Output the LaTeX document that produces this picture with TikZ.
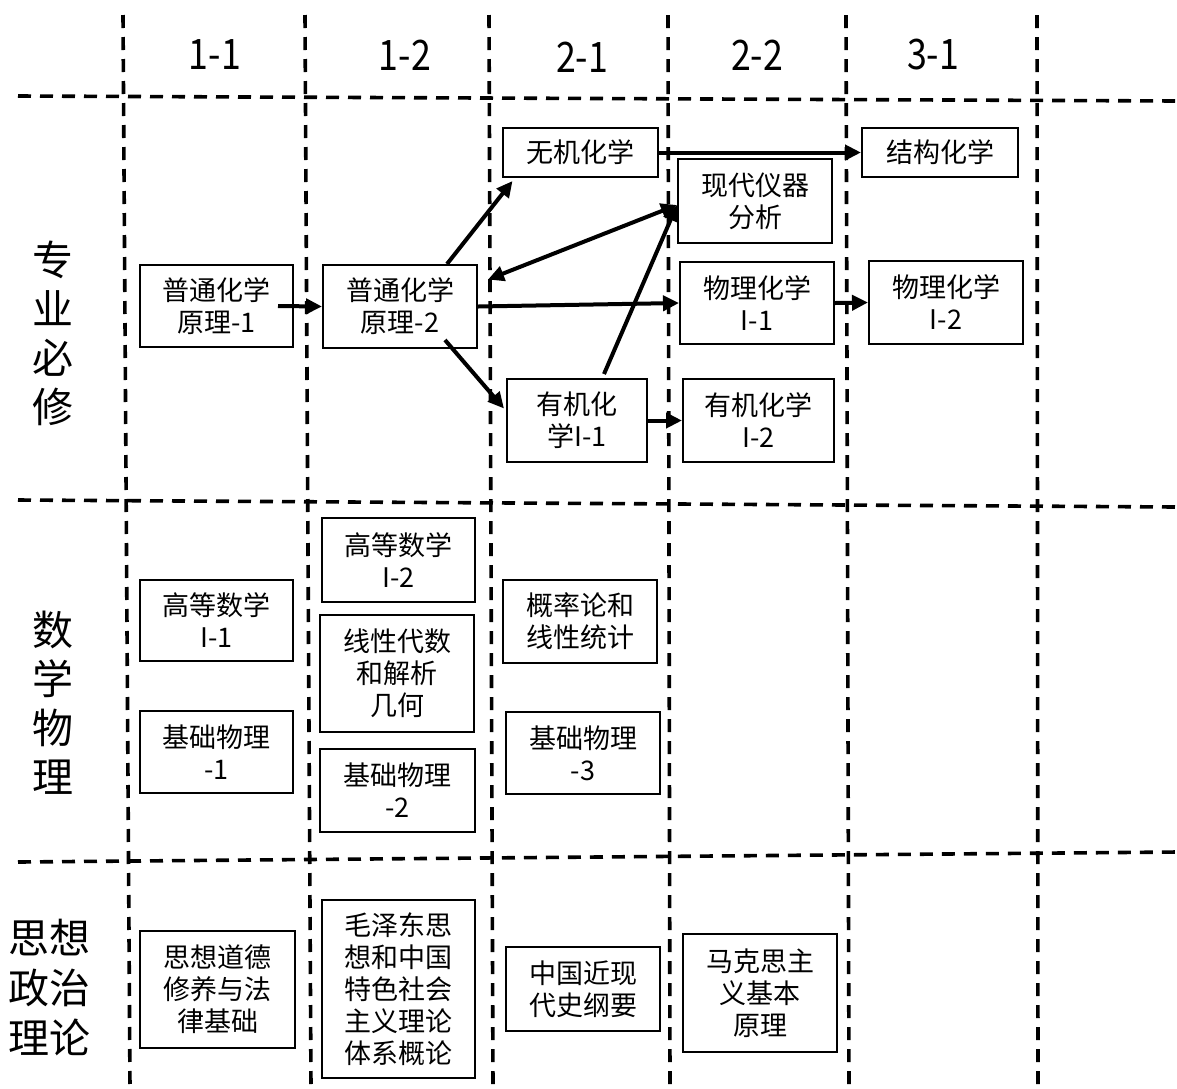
\documentclass[tikz,border=0pt]{standalone}
\usepackage{fontspec}
\setmainfont{Noto Sans CJK SC}
\usetikzlibrary{arrows.meta,calc}
\begin{document}
\begin{tikzpicture}[x=1pt,y=-1pt,
  grid/.style={line width=3.6pt, dash pattern=on 13pt off 9pt},
  box/.style={draw, line width=2pt, inner sep=0pt, align=center, font=\fontsize{27}{32}\selectfont},
  arr/.style={line width=4pt, -{Triangle[length=16pt,width=15pt]}},
  darr/.style={line width=4pt, {Triangle[length=16pt,width=15pt]}-{Triangle[length=16pt,width=15pt]}},
  hdr/.style={font=\fontsize{42}{48}\selectfont},
  side/.style={align=center, font=\fontsize{41}{49}\selectfont}]
\useasboundingbox (0,0) rectangle (1177,1088);

% grid lines
\draw[grid] (18,96) -- (1177,101);
\draw[grid] (18,500) -- (1177,507);
\draw[grid] (18,862) -- (1177,852);
\draw[grid] (123,15) -- (130,1088);
\draw[grid] (305,15) -- (311,1088);
\draw[grid] (489,15) -- (493,1088);
\draw[grid] (668,15) -- (670,1088);
\draw[grid] (846,15) -- (849,1088);
\draw[grid] (1037,15) -- (1038,1088);

% headers
\node[hdr, xscale=0.85] (h11) at (215,55) {1-1};
\node[hdr, xscale=0.85] (h12) at (405,55) {1-2};
\node[hdr, xscale=0.85] (h21) at (582,57) {2-1};
\node[hdr, xscale=0.85] (h22) at (757,55) {2-2};
\node[hdr, xscale=0.85] (h31) at (933,55) {3-1};

% side labels
\node[side] (r1) at (53,333) {专\\业\\必\\修};
\node[side] (r2) at (53,703) {数\\学\\物\\理};
\node[side, font=\fontsize{41}{50}\selectfont] (r3) at (50,988) {思想\\政治\\理论};

% row 1 boxes
\node[box, minimum width=153pt, minimum height=82pt] (p1) at (216.5,306) {普通化学\\原理-1};
\node[box, minimum width=154pt, minimum height=83pt] (p2) at (400,306.5) {普通化学\\原理-2};
\node[box, minimum width=155pt, minimum height=49pt] (wj) at (580.5,152.5) {无机化学};
\node[box, minimum width=154pt, minimum height=84pt] (xd) at (755,201) {现代仪器\\分析};
\node[box, minimum width=156pt, minimum height=49pt] (jg) at (940,152.5) {结构化学};
\node[box, minimum width=154pt, minimum height=82pt] (wl1) at (757,303) {物理化学\\I-1};
\node[box, minimum width=154pt, minimum height=83pt] (wl2) at (946,302.5) {物理化学\\I-2};
\node[box, minimum width=140pt, minimum height=83pt] (yj1) at (577,420.5) {有机化\\学I-1};
\node[box, minimum width=151pt, minimum height=83pt] (yj2) at (758.5,420.5) {有机化学\\I-2};

% row 2 boxes
\node[box, minimum width=153pt, minimum height=81pt] (gs1) at (216.5,620.5) {高等数学\\I-1};
\node[box, minimum width=153pt, minimum height=82pt] (jw1) at (216.5,752) {基础物理\\-1};
\node[box, minimum width=153pt, minimum height=84pt] (gs2) at (398.5,560) {高等数学\\I-2};
\node[box, minimum width=154pt, minimum height=117pt] (xx) at (397,673.5) {线性代数\\和解析\\几何};
\node[box, minimum width=155pt, minimum height=83pt] (jw2) at (397.5,790.5) {基础物理\\-2};
\node[box, minimum width=154pt, minimum height=83pt] (gl) at (580,621.5) {概率论和\\线性统计};
\node[box, minimum width=154pt, minimum height=82pt] (jw3) at (583,753) {基础物理\\-3};

% row 3 boxes
\node[box, minimum width=155pt, minimum height=117pt] (sx) at (217.5,989.5) {思想道德\\修养与法\\律基础};
\node[box, minimum width=153pt, minimum height=178pt] (mz) at (398.5,989) {毛泽东思\\想和中国\\特色社会\\主义理论\\体系概论};
\node[box, minimum width=154pt, minimum height=84pt] (zg) at (583,989) {中国近现\\代史纲要};
\node[box, minimum width=154pt, minimum height=118pt] (mk) at (760,993) {马克思主\\义基本\\原理};

% arrows
\draw[arr] ([xshift=-16pt]p1.east) -- (p2.west);
\draw[arr] ([xshift=47pt]p2.north) -- ([xshift=-68pt,yshift=-3pt]wj.south);
\draw[darr] ([xshift=10pt,yshift=27pt]p2.east) -- ([yshift=-4pt]xd.west);
\draw[arr] (p2.east) -- (wl1.west);
\draw[arr] ([xshift=45pt,yshift=9pt]p2.south) -- ([xshift=-2pt,yshift=12pt]yj1.west);
\draw[arr] ([xshift=27pt,yshift=4pt]yj1.north) -- ([yshift=-4pt]xd.west);
\draw[arr] (wj.east) -- (jg.west);
\draw[arr] (wl1.east) -- (wl2.west);
\draw[arr] (yj1.east) -- (yj2.west);
\end{tikzpicture}
\end{document}
